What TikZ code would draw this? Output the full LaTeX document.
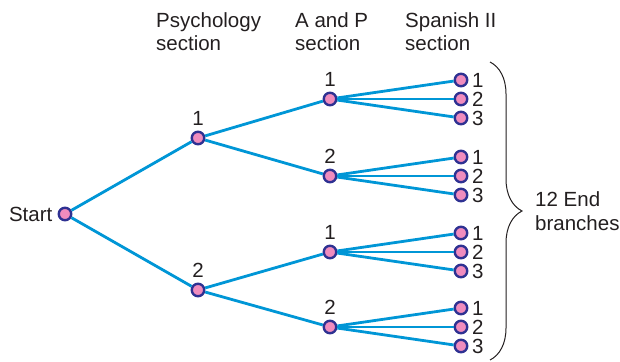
\documentclass[tikz,border=0pt]{standalone}
\usepackage{fontspec}
\setmainfont{Liberation Sans}
\usetikzlibrary{decorations.pathreplacing}
\definecolor{edgeblue}{RGB}{0,150,214}
\definecolor{dotpink}{RGB}{240,140,190}
\definecolor{dotrim}{RGB}{46,49,146}
\definecolor{ink}{RGB}{35,31,32}
\begin{document}
\begin{tikzpicture}[x=1pt,y=-1pt,
  dot/.style={circle,draw=dotrim,fill=dotpink,line width=2.4pt,minimum size=12.5pt,inner sep=0pt},
  branch/.style={draw=edgeblue,line width=2.8pt},
  txt/.style={font=\fontsize{20.5}{24}\selectfont,inner sep=0pt,text=ink},
  every label/.style={txt},
  lblabove/.style={label={[label distance=5pt]above:#1}},
  lblright/.style={label={[label distance=3.5pt]right:#1}},
  lblleft/.style={label={[label distance=5pt]left:#1}}
]
\useasboundingbox (0,0) rectangle (620,361);
% header texts
\node[txt,anchor=base west,align=left] (h1) at (156,51) {Psychology\\section};
\node[txt,anchor=base west,align=left] (h2) at (295,51) {A and P\\section};
\node[txt,anchor=base west,align=left] (h3) at (405,51) {Spanish II\\section};
% nodes
\node[dot,lblleft=Start] (s) at (65,214) {};
\node[dot,lblabove=1] (a1) at (198,138) {};
\node[dot,lblabove=2] (a2) at (198,290) {};
\node[dot,lblabove=1] (b1) at (330,99) {};
\node[dot,lblabove=2] (b2) at (330,176) {};
\node[dot,lblabove=1] (b3) at (330,252) {};
\node[dot,lblabove=2] (b4) at (330,327) {};
\foreach \g/\y in {1/99,2/176,3/252,4/327}{
  \node[dot,lblright=1] (c\g1) at (461,\y-19) {};
  \node[dot,lblright=2] (c\g2) at (461,\y) {};
  \node[dot,lblright=3] (c\g3) at (461,\y+19) {};
}
% connectors
\draw[branch] (s) -- (a1);
\draw[branch] (s) -- (a2);
\draw[branch] (a1) -- (b1);
\draw[branch] (a1) -- (b2);
\draw[branch] (a2) -- (b3);
\draw[branch] (a2) -- (b4);
\foreach \g in {1,2,3,4}{
  \foreach \k in {1,2,3}{
    \draw[branch] (b\g) -- (c\g\k);
  }
}
% brace
\coordinate (bt) at (490,62);
\coordinate (bb) at (490,360);
\draw[ink,line width=1pt,decorate,decoration={brace,amplitude=32pt}] (bt) -- (bb);
\node[txt,anchor=base west,align=left] (ends) at (535,230) {12 End\\branches};
\end{tikzpicture}
\end{document}
